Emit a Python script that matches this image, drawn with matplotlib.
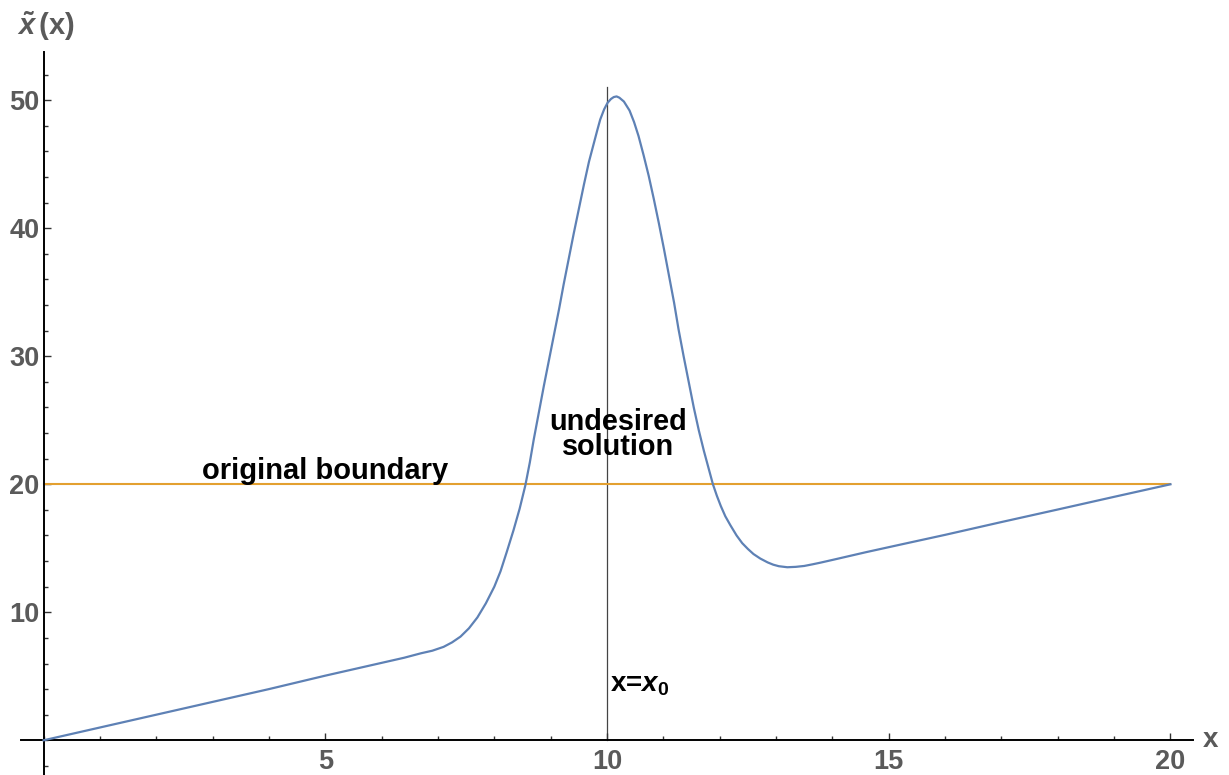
import matplotlib
matplotlib.use("Agg")
import matplotlib.pyplot as plt
import matplotlib.ticker as mticker

# Curve sampled along x; linear ramp on both sides with a spike near x0
x_vals = [0, 1, 2, 3, 4, 5, 6, 6.4, 6.7, 6.9, 7.1, 7.25, 7.4, 7.55, 7.7,
          7.85, 8.0, 8.11, 8.22, 8.34, 8.45, 8.55, 8.63, 8.70, 8.79, 8.88,
          8.97, 9.06, 9.15, 9.23, 9.32, 9.41, 9.50, 9.59, 9.68, 9.77, 9.83,
          9.88, 9.95, 10.01, 10.07, 10.12, 10.17, 10.22, 10.30, 10.40, 10.48,
          10.56, 10.65, 10.74, 10.83, 10.92, 11.01, 11.10, 11.19, 11.27,
          11.36, 11.45, 11.54, 11.63, 11.72, 11.80, 11.88, 11.95, 12.02,
          12.10, 12.19, 12.30, 12.40, 12.50, 12.60, 12.72, 12.85, 12.95,
          13.05, 13.20, 13.35, 13.50, 13.65, 13.79, 14.03, 14.6, 15.22, 16,
          17, 18, 19, 20]
y_vals = [0, 1.0, 2.0, 3.0, 4.0, 5.05, 6.05, 6.45, 6.8, 7.0, 7.3, 7.65, 8.1,
          8.75, 9.6, 10.7, 12.0, 13.2, 14.7, 16.4, 18.1, 19.9, 21.7, 23.5,
          25.6, 27.7, 29.7, 31.7, 33.7, 35.6, 37.6, 39.6, 41.5, 43.4, 45.2,
          46.7, 47.7, 48.5, 49.3, 49.8, 50.1, 50.25, 50.3, 50.2, 49.9, 49.2,
          48.3, 47.2, 45.7, 44.1, 42.3, 40.4, 38.4, 36.3, 34.2, 32.1, 30.0,
          28.0, 26.0, 24.2, 22.6, 21.3, 20.0, 19.1, 18.3, 17.5, 16.8, 16.0,
          15.4, 14.95, 14.55, 14.2, 13.9, 13.72, 13.6, 13.52, 13.55, 13.62,
          13.75, 13.88, 14.12, 14.7, 15.3, 16.05, 17.05, 18.03, 19.02, 20]

boundary_y = 20
boundary_x = [0, 20]
x0 = 10
x0_top = 51.0

x_major = [5, 10, 15, 20]
y_major = [10, 20, 30, 40, 50]

plt.rcParams.update({
    "font.family": ["Liberation Sans", "DejaVu Sans"],
    "font.weight": "bold",
    "mathtext.fontset": "custom",
    "mathtext.rm": "Liberation Sans:bold",
    "mathtext.it": "Liberation Sans:italic:bold",
    "mathtext.bf": "Liberation Sans:bold",
})

BLUE = "#5E81B5"
ORANGE = "#E3A030"
TICK_GRAY = "#5a5a5a"

fig = plt.figure(figsize=(12.29, 7.75), dpi=100)
ax = fig.add_axes([21 / 1229, 0, 1172 / 1229, 723 / 775])
ax.set_xlim(-0.4, 20.4)
ax.set_ylim(-2.71, 53.77)

ax.plot(boundary_x, [boundary_y, boundary_y], color=ORANGE, lw=1.5, zorder=2)
ax.plot(x_vals, y_vals, color=BLUE, lw=1.6, zorder=3,
        solid_joinstyle="round")
ax.plot([x0, x0], [0, x0_top], color="#444444", lw=0.9, zorder=1)

# axes crossing at the origin
for side in ["top", "right"]:
    ax.spines[side].set_visible(False)
for side in ["left", "bottom"]:
    ax.spines[side].set_position(("data", 0))
    ax.spines[side].set_linewidth(1.4)
    ax.spines[side].set_color("black")

ax.xaxis.set_major_locator(mticker.FixedLocator(x_major))
ax.xaxis.set_minor_locator(mticker.MultipleLocator(1))
ax.yaxis.set_major_locator(mticker.FixedLocator(y_major))
ax.yaxis.set_minor_locator(mticker.MultipleLocator(2))
ax.tick_params(which="both", direction="in", color="#333333", width=1.0,
               labelsize=19.5, labelcolor=TICK_GRAY)
ax.tick_params(which="major", length=5)
ax.tick_params(which="minor", length=3)
ax.tick_params(axis="x", pad=6)
ax.tick_params(axis="y", pad=3)
for lab in ax.get_xticklabels() + ax.get_yticklabels():
    lab.set_fontweight("bold")

ax.text(5, 20.4, "original boundary", fontsize=21, fontweight="bold",
        ha="center", va="baseline", color="black")
ax.text(10.19, 23.9, "undesired\nsolution", fontsize=20.8, fontweight="bold",
        ha="center", va="center", linespacing=0.88, color="black")
ax.text(10.06, 3.8, r"x=$x_0$", fontsize=20, fontweight="bold",
        ha="left", va="baseline", color="black")

fig.text(17 / 1229, 1 - 35 / 775, r"$\tilde{x}\,$(x)", fontsize=21,
         fontweight="bold", color=TICK_GRAY, ha="left", va="baseline")
fig.text(1203 / 1229, 1 - 747 / 775, "x", fontsize=20, fontweight="bold",
         color=TICK_GRAY, ha="left", va="baseline")

fig.savefig("out.png", dpi=100)
